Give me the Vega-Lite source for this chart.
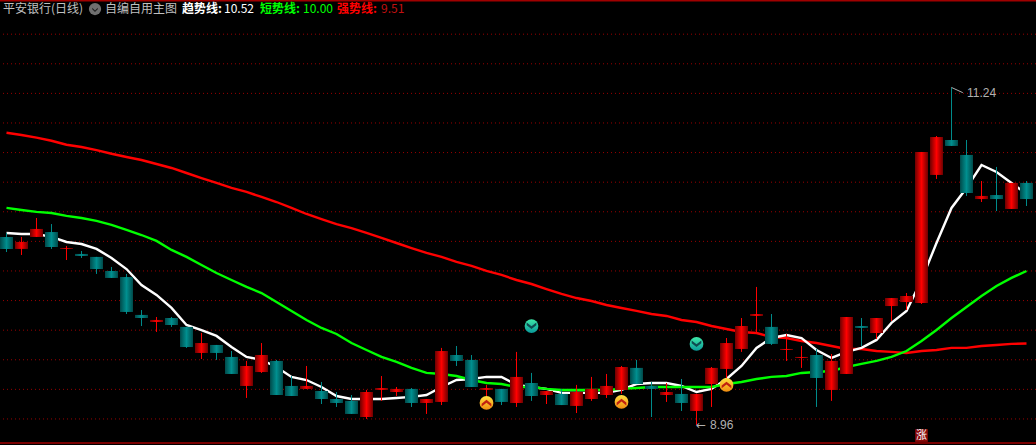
{"$schema":"https://vega.github.io/schema/vega-lite/v6.json","width":1036,"height":445,"padding":0,"autosize":{"type":"none"},"background":"#000000","config":{"view":{"stroke":null}},
"datasets":{"c":[
{"i":0,"d":"T","h":10.257,"t":10.23,"b":10.149,"l":10.128,"w":10.257,"g":10.426,"r":10.934},
{"i":1,"d":"R","h":10.23,"t":10.196,"b":10.149,"l":10.108,"w":10.25,"g":10.412,"r":10.919},
{"i":2,"d":"R","h":10.358,"t":10.284,"b":10.23,"l":10.23,"w":10.25,"g":10.399,"r":10.901},
{"i":3,"d":"T","h":10.317,"t":10.263,"b":10.162,"l":10.149,"w":10.23,"g":10.392,"r":10.88},
{"i":4,"d":"R","h":10.169,"t":10.155,"b":10.149,"l":10.074,"w":10.196,"g":10.372,"r":10.853},
{"i":5,"d":"T","h":10.135,"t":10.115,"b":10.101,"l":10.088,"w":10.182,"g":10.358,"r":10.838},
{"i":6,"d":"T","h":10.095,"t":10.095,"b":10.013,"l":9.98,"w":10.149,"g":10.338,"r":10.817},
{"i":7,"d":"T","h":10.027,"t":10.0,"b":9.953,"l":9.953,"w":10.088,"g":10.311,"r":10.792},
{"i":8,"d":"T","h":9.98,"t":9.959,"b":9.723,"l":9.709,"w":10.013,"g":10.277,"r":10.77},
{"i":9,"d":"T","h":9.736,"t":9.703,"b":9.682,"l":9.628,"w":9.905,"g":10.243,"r":10.75},
{"i":10,"d":"R","h":9.689,"t":9.669,"b":9.655,"l":9.588,"w":9.838,"g":10.203,"r":10.723},
{"i":11,"d":"T","h":9.689,"t":9.682,"b":9.635,"l":9.622,"w":9.75,"g":10.142,"r":10.696},
{"i":12,"d":"T","h":9.622,"t":9.622,"b":9.486,"l":9.48,"w":9.635,"g":10.095,"r":10.662},
{"i":13,"d":"R","h":9.581,"t":9.513,"b":9.446,"l":9.405,"w":9.601,"g":10.04,"r":10.628},
{"i":14,"d":"T","h":9.5,"t":9.5,"b":9.446,"l":9.399,"w":9.561,"g":9.986,"r":10.595},
{"i":15,"d":"T","h":9.459,"t":9.419,"b":9.304,"l":9.304,"w":9.486,"g":9.939,"r":10.561},
{"i":16,"d":"R","h":9.392,"t":9.358,"b":9.223,"l":9.142,"w":9.419,"g":9.892,"r":10.534},
{"i":17,"d":"R","h":9.513,"t":9.432,"b":9.317,"l":9.311,"w":9.399,"g":9.851,"r":10.5},
{"i":18,"d":"T","h":9.399,"t":9.392,"b":9.162,"l":9.162,"w":9.351,"g":9.79,"r":10.466},
{"i":19,"d":"T","h":9.29,"t":9.223,"b":9.155,"l":9.155,"w":9.284,"g":9.73,"r":10.426},
{"i":20,"d":"R","h":9.358,"t":9.223,"b":9.203,"l":9.203,"w":9.263,"g":9.669,"r":10.385},
{"i":21,"d":"T","h":9.25,"t":9.189,"b":9.135,"l":9.101,"w":9.216,"g":9.615,"r":10.351},
{"i":22,"d":"T","h":9.182,"t":9.135,"b":9.108,"l":9.081,"w":9.155,"g":9.574,"r":10.317},
{"i":23,"d":"T","h":9.162,"t":9.122,"b":9.034,"l":9.034,"w":9.135,"g":9.513,"r":10.29},
{"i":24,"d":"R","h":9.196,"t":9.182,"b":9.013,"l":9.0,"w":9.135,"g":9.466,"r":10.257},
{"i":25,"d":"R","h":9.29,"t":9.209,"b":9.196,"l":9.122,"w":9.135,"g":9.419,"r":10.223},
{"i":26,"d":"R","h":9.216,"t":9.203,"b":9.182,"l":9.155,"w":9.142,"g":9.385,"r":10.189},
{"i":27,"d":"T","h":9.209,"t":9.203,"b":9.108,"l":9.081,"w":9.149,"g":9.345,"r":10.155},
{"i":28,"d":"R","h":9.135,"t":9.135,"b":9.108,"l":9.034,"w":9.162,"g":9.311,"r":10.122},
{"i":29,"d":"R","h":9.48,"t":9.459,"b":9.115,"l":9.094,"w":9.216,"g":9.304,"r":10.095},
{"i":30,"d":"T","h":9.493,"t":9.432,"b":9.392,"l":9.358,"w":9.263,"g":9.29,"r":10.061},
{"i":31,"d":"T","h":9.432,"t":9.399,"b":9.216,"l":9.216,"w":9.27,"g":9.263,"r":10.034},
{"i":32,"d":"R","h":9.23,"t":9.209,"b":9.196,"l":9.155,"w":9.284,"g":9.243,"r":10.0},
{"i":33,"d":"T","h":9.203,"t":9.203,"b":9.115,"l":9.094,"w":9.284,"g":9.236,"r":9.973},
{"i":34,"d":"R","h":9.453,"t":9.284,"b":9.108,"l":9.081,"w":9.23,"g":9.216,"r":9.939},
{"i":35,"d":"T","h":9.311,"t":9.243,"b":9.155,"l":9.122,"w":9.216,"g":9.216,"r":9.912},
{"i":36,"d":"R","h":9.189,"t":9.189,"b":9.162,"l":9.101,"w":9.203,"g":9.203,"r":9.878},
{"i":37,"d":"T","h":9.203,"t":9.169,"b":9.094,"l":9.094,"w":9.176,"g":9.196,"r":9.845},
{"i":38,"d":"R","h":9.23,"t":9.182,"b":9.088,"l":9.04,"w":9.176,"g":9.196,"r":9.817},
{"i":39,"d":"R","h":9.284,"t":9.203,"b":9.135,"l":9.122,"w":9.176,"g":9.196,"r":9.797},
{"i":40,"d":"R","h":9.304,"t":9.223,"b":9.162,"l":9.142,"w":9.176,"g":9.196,"r":9.77},
{"i":41,"d":"R","h":9.358,"t":9.351,"b":9.196,"l":9.169,"w":9.196,"g":9.203,"r":9.75},
{"i":42,"d":"T","h":9.399,"t":9.345,"b":9.236,"l":9.236,"w":9.236,"g":9.209,"r":9.73},
{"i":43,"d":"T","h":9.25,"t":9.223,"b":9.203,"l":9.013,"w":9.243,"g":9.216,"r":9.709},
{"i":44,"d":"R","h":9.243,"t":9.182,"b":9.162,"l":9.115,"w":9.243,"g":9.216,"r":9.696},
{"i":45,"d":"T","h":9.27,"t":9.169,"b":9.108,"l":9.054,"w":9.223,"g":9.216,"r":9.669},
{"i":46,"d":"R","h":9.169,"t":9.169,"b":9.054,"l":8.96,"w":9.182,"g":9.216,"r":9.655},
{"i":47,"d":"R","h":9.351,"t":9.345,"b":9.236,"l":9.081,"w":9.203,"g":9.216,"r":9.628},
{"i":48,"d":"R","h":9.547,"t":9.513,"b":9.338,"l":9.263,"w":9.27,"g":9.236,"r":9.608},
{"i":49,"d":"R","h":9.682,"t":9.628,"b":9.473,"l":9.453,"w":9.358,"g":9.25,"r":9.588},
{"i":50,"d":"R","h":9.892,"t":9.709,"b":9.696,"l":9.574,"w":9.48,"g":9.27,"r":9.581},
{"i":51,"d":"T","h":9.709,"t":9.622,"b":9.507,"l":9.5,"w":9.547,"g":9.284,"r":9.554},
{"i":52,"d":"R","h":9.574,"t":9.473,"b":9.466,"l":9.392,"w":9.567,"g":9.29,"r":9.547},
{"i":53,"d":"R","h":9.493,"t":9.419,"b":9.412,"l":9.345,"w":9.547,"g":9.311,"r":9.527},
{"i":54,"d":"T","h":9.473,"t":9.432,"b":9.277,"l":9.081,"w":9.466,"g":9.317,"r":9.513},
{"i":55,"d":"R","h":9.439,"t":9.392,"b":9.196,"l":9.122,"w":9.412,"g":9.324,"r":9.493},
{"i":56,"d":"R","h":9.689,"t":9.689,"b":9.304,"l":9.304,"w":9.453,"g":9.351,"r":9.473},
{"i":57,"d":"T","h":9.682,"t":9.628,"b":9.615,"l":9.493,"w":9.48,"g":9.372,"r":9.473},
{"i":58,"d":"R","h":9.682,"t":9.682,"b":9.581,"l":9.54,"w":9.534,"g":9.392,"r":9.459},
{"i":59,"d":"R","h":9.817,"t":9.817,"b":9.763,"l":9.662,"w":9.649,"g":9.419,"r":9.453},
{"i":60,"d":"R","h":9.851,"t":9.831,"b":9.79,"l":9.736,"w":9.73,"g":9.459,"r":9.446},
{"i":61,"d":"R","h":10.804,"t":10.804,"b":9.784,"l":9.777,"w":9.939,"g":9.527,"r":9.459},
{"i":62,"d":"R","h":10.912,"t":10.905,"b":10.649,"l":10.622,"w":10.189,"g":9.601,"r":9.466},
{"i":63,"d":"T","h":11.24,"t":10.885,"b":10.845,"l":10.845,"w":10.426,"g":9.682,"r":9.48},
{"i":64,"d":"T","h":10.885,"t":10.784,"b":10.527,"l":10.507,"w":10.561,"g":9.757,"r":9.48},
{"i":65,"d":"R","h":10.608,"t":10.507,"b":10.486,"l":10.466,"w":10.716,"g":9.831,"r":9.493},
{"i":66,"d":"T","h":10.703,"t":10.513,"b":10.486,"l":10.405,"w":10.669,"g":9.899,"r":9.5},
{"i":67,"d":"R","h":10.595,"t":10.595,"b":10.419,"l":10.419,"w":10.595,"g":9.953,"r":9.507},
{"i":68,"d":"T","h":10.608,"t":10.595,"b":10.486,"l":10.439,"w":10.52,"g":10.0,"r":9.51}
],
"gridv":[{"p":9.0},{"p":9.2},{"p":9.4},{"p":9.6},{"p":9.8},{"p":10.0},{"p":10.2},{"p":10.4},{"p":10.6},{"p":10.8},{"p":11.0},{"p":11.2},{"p":11.4},{"p":11.6}],
"sig":[{"i":35,"p":9.628,"k":"down"},{"i":46,"p":9.507,"k":"down"},{"i":32,"p":9.108,"k":"up"},{"i":41,"p":9.115,"k":"up"},{"i":48,"p":9.23,"k":"up"}],
"hdr":[
{"s":"平安银行(日线)","i":-0.233,"p":11.77,"k":"gray"},
{"s":"自编自用主图","i":6.567,"p":11.77,"k":"gray"},
{"s":"10.52","i":14.5,"p":11.77,"k":"white"},
{"s":"10.00","i":19.767,"p":11.77,"k":"green"},
{"s":"9.51","i":24.967,"p":11.77,"k":"dark"}],
"hdrb":[
{"s":"趋势线:","i":11.7,"p":11.77,"k":"white"},
{"s":"短势线:","i":16.9,"p":11.77,"k":"green"},
{"s":"强势线:","i":22.033,"p":11.77,"k":"red"}],
"ann":[{"s":"11.24","i":64.03,"p":11.205},{"s":"8.96","i":46.9,"p":8.96}],
"flag":[{"i":63,"p":11.24},{"i":63.75,"p":11.205}],
"arrow":[{"s":"←","i":45.97,"p":8.96}],
"menu":[{"i":5.9,"p":11.77}],
"edge":[{"p":11.826},{"p":8.838}],
"tag":[{"s":"涨","i":61,"p":8.888}]
},
"layer":[
{"data":{"name":"gridv"},"mark":{"type":"rule","color":"#9a0000","strokeWidth":1,"strokeDash":[1,3]},"encoding":{"y":{"field":"p","type":"quantitative","title":null,"axis":null,"scale":{"domain":[8.824,11.831],"nice":false,"zero":false}}}},
{"data":{"name":"edge"},"mark":{"type":"rule","color":"#a00000","strokeWidth":1.5},"encoding":{"y":{"field":"p","type":"quantitative","title":null,"axis":null,"scale":{"domain":[8.824,11.831],"nice":false,"zero":false}}}},
{"data":{"name":"c"},"mark":{"type":"line","color":"#ff0000","strokeWidth":2.4,"strokeCap":"butt","interpolate":"linear"},"encoding":{"x":{"field":"i","type":"quantitative","scale":{"domain":[-0.4333,68.6333],"nice":false,"zero":false,"padding":0},"axis":null},"y":{"field":"r","type":"quantitative","title":null,"axis":null,"scale":{"domain":[8.824,11.831],"nice":false,"zero":false}}}},
{"data":{"name":"c"},"mark":{"type":"line","color":"#ffffff","strokeWidth":2.4,"interpolate":"linear"},"encoding":{"x":{"field":"i","type":"quantitative","scale":{"domain":[-0.4333,68.6333],"nice":false,"zero":false,"padding":0},"axis":null},"y":{"field":"w","type":"quantitative","title":null,"axis":null,"scale":{"domain":[8.824,11.831],"nice":false,"zero":false}}}},
{"data":{"name":"c"},"mark":{"type":"line","color":"#00ff00","strokeWidth":2.4,"interpolate":"linear"},"encoding":{"x":{"field":"i","type":"quantitative","scale":{"domain":[-0.4333,68.6333],"nice":false,"zero":false,"padding":0},"axis":null},"y":{"field":"g","type":"quantitative","title":null,"axis":null,"scale":{"domain":[8.824,11.831],"nice":false,"zero":false}}}},
{"data":{"name":"c"},"transform":[{"filter":"datum.d==='R'"}],"mark":{"type":"rule","color":"#ff0000","strokeWidth":1},"encoding":{"x":{"field":"i","type":"quantitative","scale":{"domain":[-0.4333,68.6333],"nice":false,"zero":false,"padding":0},"axis":null},"y":{"field":"h","type":"quantitative","title":null,"axis":null,"scale":{"domain":[8.824,11.831],"nice":false,"zero":false}},"y2":{"field":"l"}}},
{"data":{"name":"c"},"transform":[{"filter":"datum.d==='T'"}],"mark":{"type":"rule","color":"#008b8b","strokeWidth":1},"encoding":{"x":{"field":"i","type":"quantitative","scale":{"domain":[-0.4333,68.6333],"nice":false,"zero":false,"padding":0},"axis":null},"y":{"field":"h","type":"quantitative","title":null,"axis":null,"scale":{"domain":[8.824,11.831],"nice":false,"zero":false}},"y2":{"field":"l"}}},
{"data":{"name":"c"},"transform":[{"filter":"datum.d==='R'"}],"mark":{"type":"bar","size":13,"orient":"vertical","color":{"gradient":"linear","x1":0,"y1":0,"x2":1,"y2":0,"stops":[{"offset":0,"color":"#6e0000"},{"offset":0.5,"color":"#ff0000"},{"offset":1,"color":"#6e0000"}]}},"encoding":{"x":{"field":"i","type":"quantitative","scale":{"domain":[-0.4333,68.6333],"nice":false,"zero":false,"padding":0},"axis":null},"y":{"field":"t","type":"quantitative","title":null,"axis":null,"scale":{"domain":[8.824,11.831],"nice":false,"zero":false}},"y2":{"field":"b"}}},
{"data":{"name":"c"},"transform":[{"filter":"datum.d==='T'"}],"mark":{"type":"bar","size":13,"orient":"vertical","color":{"gradient":"linear","x1":0,"y1":0,"x2":1,"y2":0,"stops":[{"offset":0,"color":"#004a4a"},{"offset":0.5,"color":"#008f8f"},{"offset":1,"color":"#004a4a"}]}},"encoding":{"x":{"field":"i","type":"quantitative","scale":{"domain":[-0.4333,68.6333],"nice":false,"zero":false,"padding":0},"axis":null},"y":{"field":"t","type":"quantitative","title":null,"axis":null,"scale":{"domain":[8.824,11.831],"nice":false,"zero":false}},"y2":{"field":"b"}}},
{"data":{"name":"sig"},"transform":[{"filter":"datum.k==='up'"}],"mark":{"type":"point","shape":"circle","filled":true,"size":190,"opacity":1,"fill":{"gradient":"linear","x1":0,"y1":0,"x2":0,"y2":1,"stops":[{"offset":0,"color":"#ffe040"},{"offset":1,"color":"#f08c10"}]},"stroke":null},"encoding":{"x":{"field":"i","type":"quantitative","scale":{"domain":[-0.4333,68.6333],"nice":false,"zero":false,"padding":0},"axis":null},"y":{"field":"p","type":"quantitative","title":null,"axis":null,"scale":{"domain":[8.824,11.831],"nice":false,"zero":false}}}},
{"data":{"name":"sig"},"transform":[{"filter":"datum.k==='down'"}],"mark":{"type":"point","shape":"circle","filled":true,"size":190,"opacity":1,"fill":{"gradient":"linear","x1":0,"y1":0,"x2":0,"y2":1,"stops":[{"offset":0,"color":"#3fe8a8"},{"offset":1,"color":"#0a9a9a"}]},"stroke":null},"encoding":{"x":{"field":"i","type":"quantitative","scale":{"domain":[-0.4333,68.6333],"nice":false,"zero":false,"padding":0},"axis":null},"y":{"field":"p","type":"quantitative","title":null,"axis":null,"scale":{"domain":[8.824,11.831],"nice":false,"zero":false}}}},
{"data":{"name":"sig"},"transform":[{"filter":"datum.k==='up'"}],"mark":{"type":"point","filled":true,"size":190,"opacity":1,"color":"#c02010","shape":"M-0.7,0.1L0,-0.45L0.7,0.1L0.7,0.5L0,-0.05L-0.7,0.5Z"},"encoding":{"x":{"field":"i","type":"quantitative","scale":{"domain":[-0.4333,68.6333],"nice":false,"zero":false,"padding":0},"axis":null},"y":{"field":"p","type":"quantitative","title":null,"axis":null,"scale":{"domain":[8.824,11.831],"nice":false,"zero":false}}}},
{"data":{"name":"sig"},"transform":[{"filter":"datum.k==='down'"}],"mark":{"type":"point","filled":true,"size":190,"opacity":1,"color":"#0e4a50","shape":"M-0.7,-0.1L0,0.45L0.7,-0.1L0.7,-0.5L0,0.05L-0.7,-0.5Z"},"encoding":{"x":{"field":"i","type":"quantitative","scale":{"domain":[-0.4333,68.6333],"nice":false,"zero":false,"padding":0},"axis":null},"y":{"field":"p","type":"quantitative","title":null,"axis":null,"scale":{"domain":[8.824,11.831],"nice":false,"zero":false}}}},
{"data":{"name":"flag"},"mark":{"type":"line","color":"#b0b0b0","strokeWidth":1},"encoding":{"x":{"field":"i","type":"quantitative","scale":{"domain":[-0.4333,68.6333],"nice":false,"zero":false,"padding":0},"axis":null},"y":{"field":"p","type":"quantitative","title":null,"axis":null,"scale":{"domain":[8.824,11.831],"nice":false,"zero":false}}}},
{"data":{"name":"ann"},"mark":{"type":"text","align":"left","baseline":"middle","font":"Liberation Sans","fontSize":12,"color":"#b0b0b0"},"encoding":{"text":{"field":"s"},"x":{"field":"i","type":"quantitative","scale":{"domain":[-0.4333,68.6333],"nice":false,"zero":false,"padding":0},"axis":null},"y":{"field":"p","type":"quantitative","title":null,"axis":null,"scale":{"domain":[8.824,11.831],"nice":false,"zero":false}}}},
{"data":{"name":"arrow"},"mark":{"type":"text","align":"left","baseline":"middle","font":"DejaVu Sans","fontSize":12,"color":"#b0b0b0"},"encoding":{"text":{"field":"s"},"x":{"field":"i","type":"quantitative","scale":{"domain":[-0.4333,68.6333],"nice":false,"zero":false,"padding":0},"axis":null},"y":{"field":"p","type":"quantitative","title":null,"axis":null,"scale":{"domain":[8.824,11.831],"nice":false,"zero":false}}}},
{"data":{"name":"menu"},"mark":{"type":"point","shape":"circle","filled":true,"size":150,"opacity":1,"color":"#707070"},"encoding":{"x":{"field":"i","type":"quantitative","scale":{"domain":[-0.4333,68.6333],"nice":false,"zero":false,"padding":0},"axis":null},"y":{"field":"p","type":"quantitative","title":null,"axis":null,"scale":{"domain":[8.824,11.831],"nice":false,"zero":false}}}},
{"data":{"name":"menu"},"mark":{"type":"point","filled":true,"size":150,"opacity":1,"color":"#202020","shape":"M-0.45,-0.2L0,0.25L0.45,-0.2L0.45,0.05L0,0.5L-0.45,0.05Z"},"encoding":{"x":{"field":"i","type":"quantitative","scale":{"domain":[-0.4333,68.6333],"nice":false,"zero":false,"padding":0},"axis":null},"y":{"field":"p","type":"quantitative","title":null,"axis":null,"scale":{"domain":[8.824,11.831],"nice":false,"zero":false}}}},
{"data":{"name":"hdr"},"mark":{"type":"text","align":"left","baseline":"middle","font":"Noto Sans CJK SC","fontSize":12},"encoding":{"text":{"field":"s"},"color":{"field":"k","type":"nominal","legend":null,"scale":{"domain":["gray","white","green","red","dark"],"range":["#c0c0c0","#ffffff","#00ff00","#ff0000","#c01010"]}},"x":{"field":"i","type":"quantitative","scale":{"domain":[-0.4333,68.6333],"nice":false,"zero":false,"padding":0},"axis":null},"y":{"field":"p","type":"quantitative","title":null,"axis":null,"scale":{"domain":[8.824,11.831],"nice":false,"zero":false}}}},
{"data":{"name":"hdrb"},"mark":{"type":"text","align":"left","baseline":"middle","font":"Noto Sans CJK SC","fontSize":12,"fontWeight":"bold"},"encoding":{"text":{"field":"s"},"color":{"field":"k","type":"nominal","legend":null,"scale":{"domain":["gray","white","green","red","dark"],"range":["#c0c0c0","#ffffff","#00ff00","#ff0000","#c01010"]}},"x":{"field":"i","type":"quantitative","scale":{"domain":[-0.4333,68.6333],"nice":false,"zero":false,"padding":0},"axis":null},"y":{"field":"p","type":"quantitative","title":null,"axis":null,"scale":{"domain":[8.824,11.831],"nice":false,"zero":false}}}},
{"data":{"name":"tag"},"mark":{"type":"point","shape":"square","filled":true,"size":160,"opacity":1,"color":"#8b0a0a"},"encoding":{"x":{"field":"i","type":"quantitative","scale":{"domain":[-0.4333,68.6333],"nice":false,"zero":false,"padding":0},"axis":null},"y":{"field":"p","type":"quantitative","title":null,"axis":null,"scale":{"domain":[8.824,11.831],"nice":false,"zero":false}}}},
{"data":{"name":"tag"},"mark":{"type":"text","align":"center","baseline":"middle","font":"Noto Sans CJK SC","fontSize":11,"color":"#ffffff"},"encoding":{"text":{"field":"s"},"x":{"field":"i","type":"quantitative","scale":{"domain":[-0.4333,68.6333],"nice":false,"zero":false,"padding":0},"axis":null},"y":{"field":"p","type":"quantitative","title":null,"axis":null,"scale":{"domain":[8.824,11.831],"nice":false,"zero":false}}}}
]}
